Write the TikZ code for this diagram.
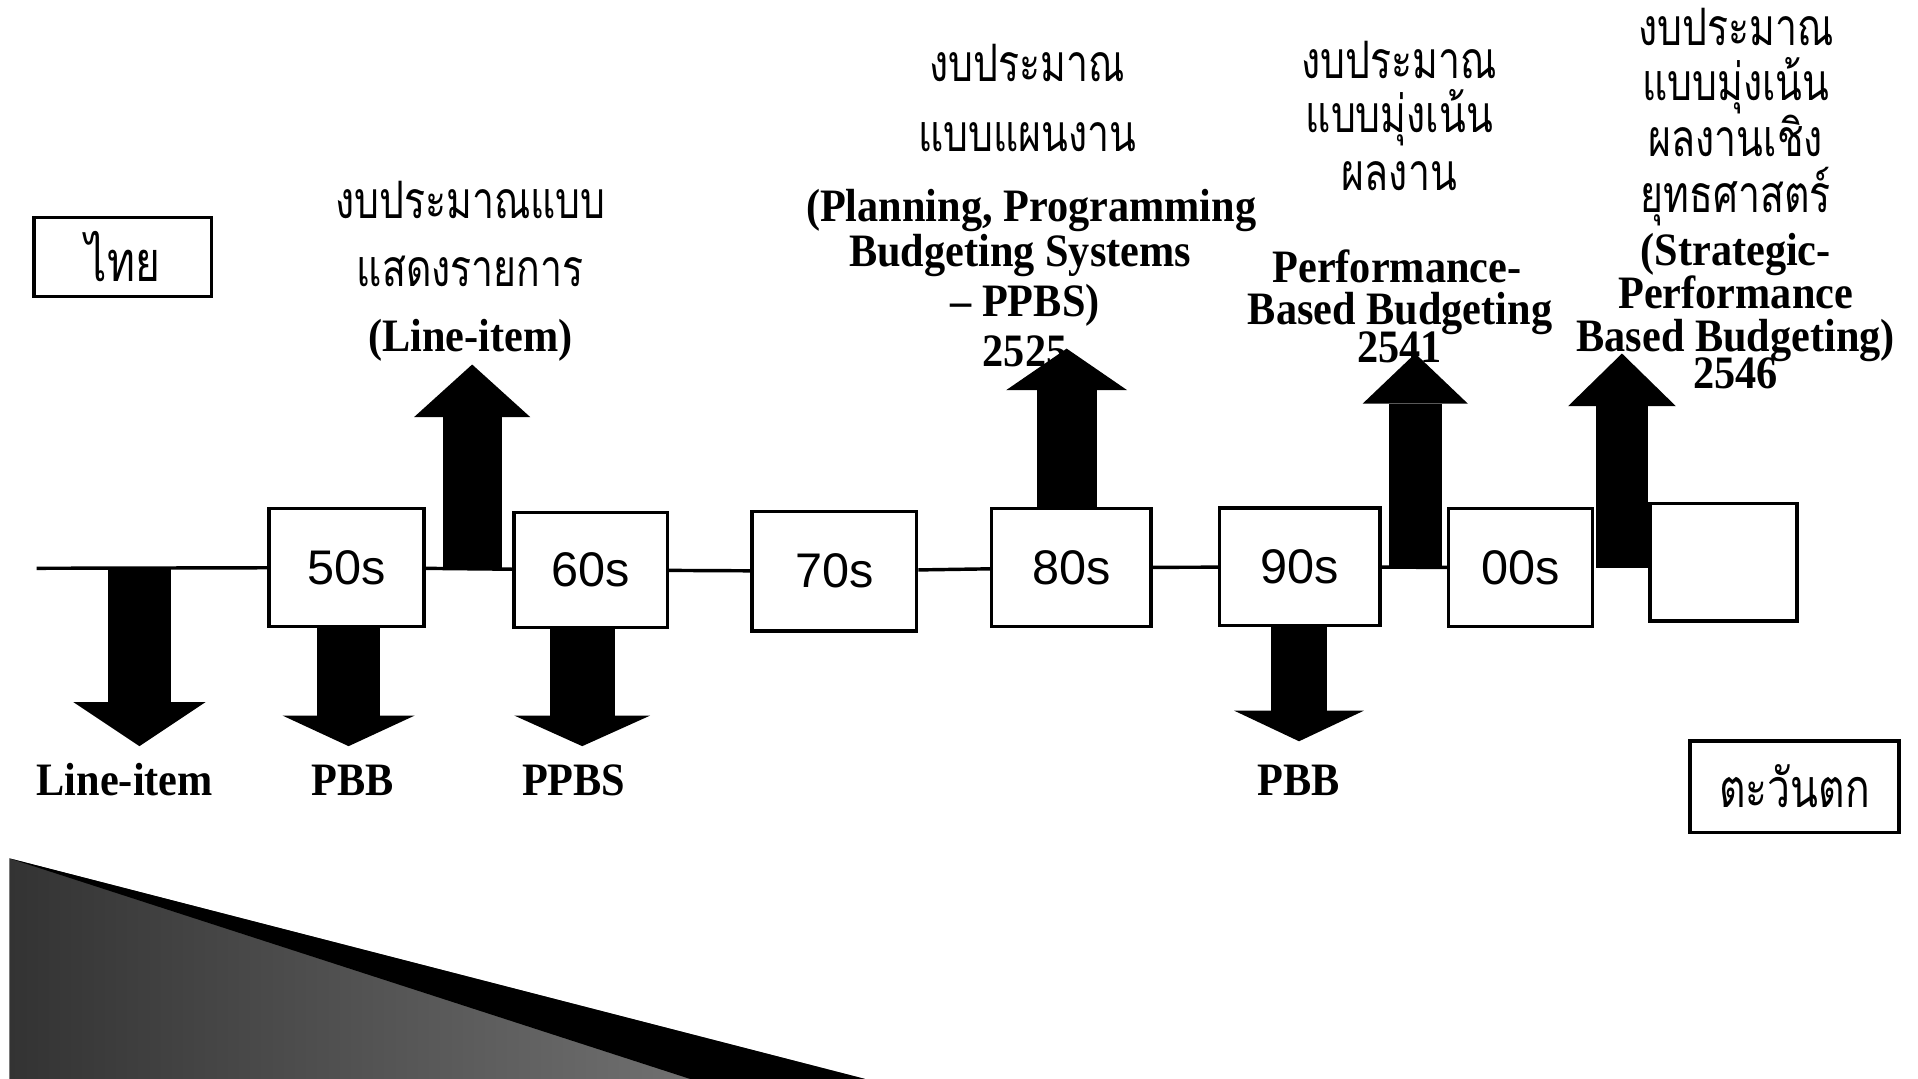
\documentclass[tikz,border=0pt]{standalone}
\usepackage{fontspec}
\setmainfont{Liberation Serif}
\newfontfamily\thaifont[Script=Thai,FakeStretch=0.76]{Loma}
\newfontfamily\engfont[FakeStretch=0.91]{Liberation Serif}
\newfontfamily\decfont{Liberation Sans}
\usetikzlibrary{arrows.meta,positioning,calc}

\tikzset{
  decade/.style={draw, line width=0.8pt, inner sep=0pt, font=\decfont\fontsize{11.3}{12}\selectfont},
  eng/.style={anchor=base, inner sep=0pt, font=\engfont\bfseries\fontsize{10.8}{11}\selectfont},
  thai/.style={anchor=base, inner sep=0pt, font=\thaifont\fontsize{12}{12}\selectfont},
  tl/.style={line width=0.8pt},
  fat/.style n args={3}{line width=#1, -{Triangle[width=#2, length=#3, line width=0pt]}},
}

\begin{document}
\begin{tikzpicture}[x=0.01cm, y=-0.01cm]
\useasboundingbox (0,0) rectangle (1568,882);

% corner picture
\shade[left color=black!80, right color=black!50] (7.6,701.7) -- (707,882) -- (7.6,882) -- cycle;
\fill (7.6,701.7) -- (707,882) -- (564,882) -- cycle;

% decades
\node[decade, minimum width=1.265cm, minimum height=0.967cm] (d50) at (283.3,464) {50s};
\node[decade, minimum width=1.252cm, minimum height=0.942cm] (d60) at (483,466) {60s};
\node[decade, minimum width=1.346cm, minimum height=0.973cm] (d70) at (682,467) {70s};
\node[decade, minimum width=1.30cm, minimum height=0.967cm] (d80) at (875.8,464) {80s};
\node[decade, minimum width=1.31cm, minimum height=0.96cm] (d90) at (1062.5,463.5) {90s};
\node[decade, minimum width=1.173cm, minimum height=0.967cm] (d00) at (1243,464) {00s};
\node[decade, minimum width=1.20cm, minimum height=0.96cm] (dblank) at (1409,459.5) {};

% timeline
\coordinate (start) at (30,464.6);
\draw[tl] (start) -- (d50);
\draw[tl] (d50) -- (d60);
\draw[tl] (d60) -- (d70);
\draw[tl] (d70) -- (d80);
\draw[tl] (d80) -- (d90);
\draw[tl] (d90) -- (d00);

% the two sides
\node[draw, line width=0.8pt, minimum width=1.45cm, minimum height=0.645cm, font=\thaifont\fontsize{13}{13}\selectfont] (thai) at (100.5,210) {ไทย};
\node[draw, line width=0.8pt, minimum width=1.71cm, minimum height=0.747cm, font=\thaifont\fontsize{12.5}{13}\selectfont] (west) at (1467,643) {ตะวันตก};

% western labels
\node[eng] (lbline) at (102,650) {Line-item};
\node[eng] (lbpbb) at (288,650) {PBB};
\node[eng] (lbppbs) at (469,650) {PPBS};
\node[eng] (lbpbbb) at (1062,650) {PBB};

% down arrows
\coordinate (a1t) at (114,610);
\coordinate (a2t) at (285,610);
\coordinate (a3t) at (476,610);
\coordinate (a4t) at (1062,606);
\draw[fat={0.52cm}{1.08cm}{0.36cm}] (a1t |- start) -- (a1t);
\draw[fat={0.52cm}{1.08cm}{0.25cm}] (d50.south -| a2t) -- (a2t);
\draw[fat={0.53cm}{1.11cm}{0.25cm}] (d60.south -| a3t) -- (a3t);
\draw[fat={0.46cm}{1.06cm}{0.25cm}] (d90.south -| a4t) -- (a4t);

% up arrows
\coordinate (u1t) at (386,298);
\coordinate (u2t) at (872,285);
\coordinate (u3t) at (1157,289);
\coordinate (u4t) at (1326,289);
\draw[fat={0.48cm}{0.95cm}{0.43cm}] (u1t |- d60.west) -- (u1t);
\draw[fat={0.49cm}{0.99cm}{0.34cm}] (d80.north -| u2t) -- (u2t);
\draw[fat={0.43cm}{0.86cm}{0.41cm}] (u3t |- d00.west) -- (u3t);
\draw[fat={0.43cm}{0.88cm}{0.43cm}] (u4t |- d00.west) -- (u4t);

% thai budget stages
\node[thai] (pl1) at (384.5,178.5) {งบประมาณแบบ};
\node[thai] (pl2) at (384.5,234) {แสดงรายการ};
\node[eng] (pl3) at (384.5,287) {(Line-item)};

\node[thai] (pp1) at (840,66.8) {งบประมาณ};
\node[thai] (pp2) at (840,124) {แบบแผนงาน};
\node[eng] (pp3) at (843,181) {(Planning, Programming};
\node[eng] (pp4) at (834,218) {Budgeting Systems};
\node[eng] (pp5) at (838,259) {– PPBS)};
\node[eng] (pp6) at (838,300) {2525};

\node[thai] (pf1) at (1144,64) {งบประมาณ};
\node[thai] (pf2) at (1144,108) {แบบมุ่งเน้น};
\node[thai] (pf3) at (1144,156) {ผลงาน};
\node[eng] (pf4) at (1142,231) {Performance-};
\node[eng] (pf5) at (1144.6,265) {Based Budgeting};
\node[eng] (pf6) at (1144,296) {2541};

\node[thai] (ps1) at (1419,36.8) {งบประมาณ};
\node[thai] (ps2) at (1419,81.8) {แบบมุ่งเน้น};
\node[thai] (ps3) at (1419,128) {ผลงานเชิง};
\node[thai] (ps4) at (1419,174) {ยุทธศาสตร์};
\node[eng] (ps5) at (1419,217) {(Strategic-};
\node[eng] (ps6) at (1419,252) {Performance};
\node[eng] (ps7) at (1419,287.5) {Based Budgeting)};
\node[eng] (ps8) at (1419,318) {2546};
\end{tikzpicture}
\end{document}
